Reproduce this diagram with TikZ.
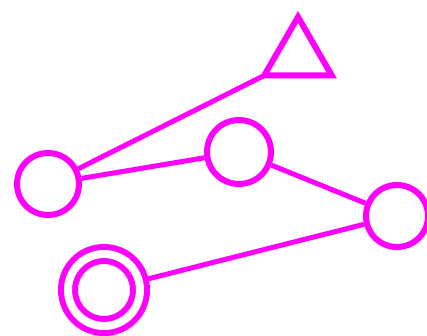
\documentclass[tikz,border=0pt]{standalone}
\usepackage{xcolor}
\usepackage{tikz}
\usetikzlibrary{shapes.geometric}
\definecolor{statepink}{RGB}{255,0,255}
\tikzset{
  ring/.style={draw=statepink, circle, line width=6pt, inner sep=0pt, minimum size=62pt},
  finalring/.style={ring, double=white, double distance=8pt, minimum size=72pt, outer sep=9pt},
  tri/.style={draw=statepink, regular polygon, regular polygon sides=3, line width=6pt, inner sep=0pt, outer sep=0pt, minimum size=78pt},
  link/.style={draw=statepink, line width=5pt}
}

\begin{document}
\begin{tikzpicture}[x=1pt, y=-1pt]
  \path[use as bounding box, clip] (0,0) rectangle (427,336);

  \node[tri] (top) at (298,56) {};
  \node[ring] (left) at (48,184) {};
  \node[ring, minimum size=64pt] (mid) at (239,152) {};
  \node[ring] (right) at (397,216) {};
  \node[finalring] (final) at (104,290) {};

  \draw[link] (left) -- (top.corner 2);
  \draw[link] (left) -- (mid);
  \draw[link] (mid) -- (right);
  \draw[link] (final) -- (right);
\end{tikzpicture}
\end{document}
